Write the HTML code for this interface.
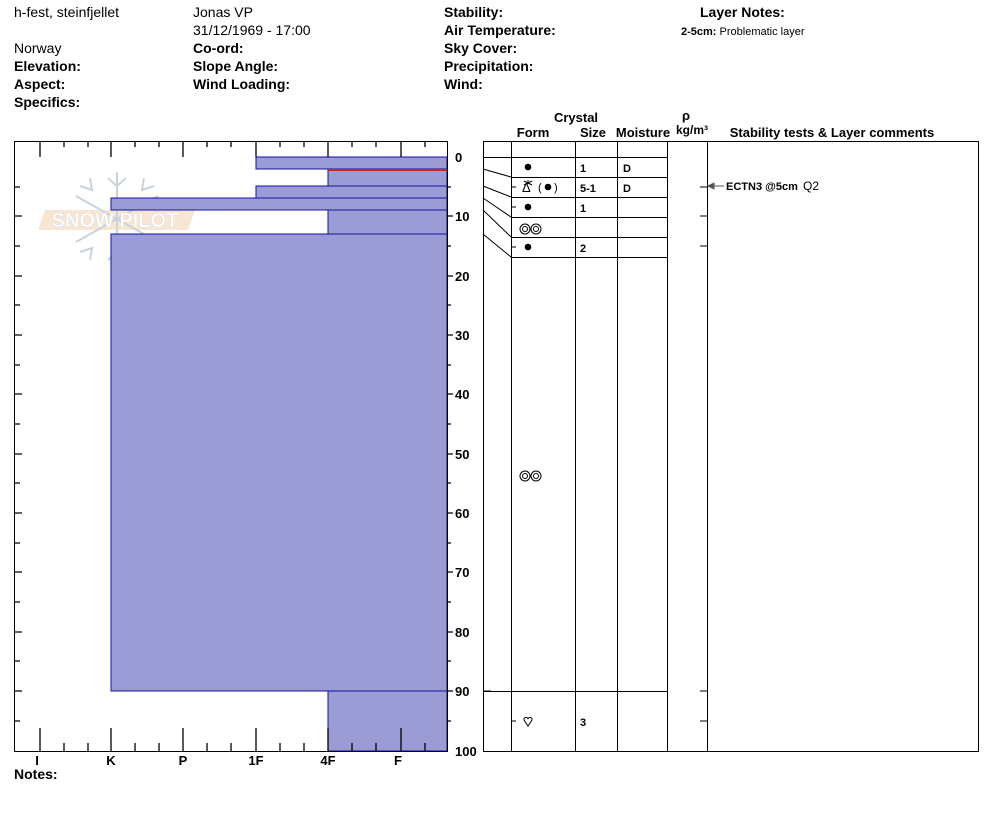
<!DOCTYPE html>
<html><head><meta charset="utf-8"><style>
body{margin:0;background:#fff;}
svg{display:block;font-family:"Liberation Sans",Arial,sans-serif;}
.b{font-weight:bold}
</style></head><body>
<svg width="994" height="840" viewBox="0 0 994 840" xmlns="http://www.w3.org/2000/svg">
<g font-size="14" fill="#000">
<text x="14" y="17">h-fest, steinfjellet</text>
<text x="14" y="53">Norway</text>
<text x="14" y="71" class="b">Elevation:</text>
<text x="14" y="89" class="b">Aspect:</text>
<text x="14" y="107" class="b">Specifics:</text>
<text x="193" y="17">Jonas VP</text>
<text x="193" y="35">31/12/1969 - 17:00</text>
<text x="193" y="53" class="b">Co-ord:</text>
<text x="193" y="71" class="b">Slope Angle:</text>
<text x="193" y="89" class="b">Wind Loading:</text>
<text x="444" y="17" class="b">Stability:</text>
<text x="444" y="35" class="b">Air Temperature:</text>
<text x="444" y="53" class="b">Sky Cover:</text>
<text x="444" y="71" class="b">Precipitation:</text>
<text x="444" y="89" class="b">Wind:</text>
<text x="700" y="17" class="b">Layer Notes:</text>
<text x="681" y="35" font-size="11"><tspan font-weight="bold">2-5cm:</tspan> Problematic layer</text>
<text x="14" y="779" class="b">Notes:</text>
</g>
<!-- watermark -->
<g opacity="0.45">
<polygon points="45,210 195,210 188,230 38,230" fill="#f0c8a0"/>
<g stroke="#8aa0b0" stroke-width="2" fill="none">
<line x1="117" y1="172" x2="117" y2="266"/><line x1="76" y1="196" x2="158" y2="242"/><line x1="76" y1="242" x2="158" y2="196"/>
<path d="M108 178l9 8 9-8M108 260l9-8 9 8M80 186l12 4 -2 -12M154 186l-12 4 2 -12M80 252l12-4-2 12M154 252l-12-4 2 12"/>
</g>
<text x="115" y="227" font-size="20" fill="#fff" stroke="#bbb" stroke-width="0.6" text-anchor="middle" font-weight="bold">SNOW PILOT</text>
</g>
<!-- hardness bars -->
<g fill="#9b9bd6" stroke="#1010a0" stroke-width="1">
<rect x="256" y="157" width="191" height="12"/>
<rect x="328" y="170" width="119" height="16"/>
<rect x="256" y="186" width="191" height="12"/>
<rect x="111" y="198" width="336" height="12"/>
<rect x="328" y="210" width="119" height="24"/>
<rect x="111" y="234" width="336" height="457"/>
<rect x="328" y="691" width="119" height="60"/>
</g>
<line x1="328" y1="170" x2="447" y2="170" stroke="#d02020" stroke-width="2"/>
<!-- frame -->
<rect x="14.5" y="141.5" width="433" height="610" fill="none" stroke="#000"/>
<g stroke="#000" stroke-width="1.3">
<path d="M40 141v16M111 141v16M183 141v16M256 141v16M328 141v16M401 141v16
M64 141v6M88 141v6M135 141v6M159 141v6M207 141v6M231 141v6M280 141v6M304 141v6M352 141v6M376 141v6M425 141v6"/>
<path d="M40 751v-23M111 751v-23M183 751v-23M256 751v-23M328 751v-23M401 751v-23
M64 751v-8M88 751v-8M135 751v-8M159 751v-8M207 751v-8M231 751v-8M280 751v-8M304 751v-8M352 751v-8M376 751v-8M425 751v-8"/>
<path d="M14 187h6M14 216h8M14 246h6M14 276h8M14 305h6M14 335h8M14 365h6M14 394h8M14 424h6M14 454h8M14 483h6M14 513h8M14 543h6M14 572h8M14 602h6M14 632h8M14 661h6M14 691h8M14 721h6
M447 187h4M447 216h6M447 246h4M447 276h6M447 305h4M447 335h6M447 365h4M447 394h6M447 424h4M447 454h6M447 483h4M447 513h6M447 543h4M447 572h6M447 602h4M447 632h6M447 661h4M447 691h6M447 721h4"/>
</g>
<g font-size="13" font-weight="bold" text-anchor="middle">
<text x="37" y="765">I</text><text x="111" y="765">K</text><text x="183" y="765">P</text><text x="256" y="765">1F</text><text x="328" y="765">4F</text><text x="398" y="765">F</text>
</g>
<g font-size="13" font-weight="bold">
<text x="455" y="162">0</text><text x="455" y="221">10</text><text x="455" y="281">20</text><text x="455" y="340">30</text><text x="455" y="399">40</text><text x="455" y="459">50</text><text x="455" y="518">60</text><text x="455" y="577">70</text><text x="455" y="637">80</text><text x="455" y="696">90</text><text x="455" y="756">100</text>
</g>
<!-- right table -->
<g font-size="13" font-weight="bold" text-anchor="middle">
<text x="576" y="122">Crystal</text>
<text x="533" y="137">Form</text><text x="593" y="137">Size</text><text x="643" y="137">Moisture</text>
<text x="686" y="120">ρ</text><text x="692" y="134" font-size="12">kg/m³</text>
<text x="832" y="137">Stability tests &amp; Layer comments</text>
</g>
<rect x="483.5" y="141.5" width="495" height="610" fill="none" stroke="#000"/>
<g stroke="#000" stroke-width="1">
<path d="M511.5 141v610M575.5 141v610M617.5 141v610M667.5 141v610M707.5 141v610"/>
<path d="M511 157.5h156M511 177.5h156M511 197.5h156M511 217.5h156M511 237.5h156M511 257.5h156M483 691.5h184"/>
<path d="M483 157.5h28M483 169L511 177M483 186L511 197M483 198L511 217M483 210L511 237M483 234L511 257" fill="none"/>
<path d="M483 691h8M511 187h5M511 207h5M511 247h5M511 721h5M700 187h7M700 216h7M700 246h7M700 691h7M700 721h7"/>
</g>
<g font-size="11" font-weight="bold">
<text x="580" y="172">1</text><text x="623" y="172">D</text>
<text x="580" y="192">5-1</text><text x="623" y="192">D</text>
<text x="580" y="212">1</text>
<text x="580" y="252">2</text>
<text x="580" y="726">3</text>
</g>
<g fill="#000">
<circle cx="528" cy="167" r="3.3"/>
<circle cx="548" cy="187" r="3.3"/>
<circle cx="528" cy="207" r="3.3"/>
<circle cx="528" cy="247" r="3.3"/>
</g>
<text x="522" y="192" font-size="13">Δ</text>
<text x="538" y="191" font-size="11">(</text><text x="554" y="191" font-size="11">)</text>
<g fill="none" stroke="#000" stroke-width="1">
<line x1="528" y1="180" x2="528" y2="184"/><line x1="524" y1="181" x2="532" y2="185"/><line x1="532" y1="181" x2="524" y2="185"/>
<circle cx="525" cy="229" r="5"/><circle cx="525" cy="229" r="2.5"/><circle cx="536" cy="229" r="5"/><circle cx="536" cy="229" r="2.5"/>
<circle cx="525" cy="476" r="5"/><circle cx="525" cy="476" r="2.5"/><circle cx="536" cy="476" r="5"/><circle cx="536" cy="476" r="2.5"/>
<path d="M528 726l-4-6a2 2 0 0 1 4-1a2 2 0 0 1 4 1z"/>
</g>
<g stroke="#555"><line x1="708" y1="186" x2="724" y2="186"/><path d="M708 186l6-3v6z" fill="#555"/></g>
<text x="726" y="190" font-size="11" font-weight="bold">ECTN3 @5cm</text>
<text x="803" y="190" font-size="12">Q2</text>
</svg>
</body></html>
